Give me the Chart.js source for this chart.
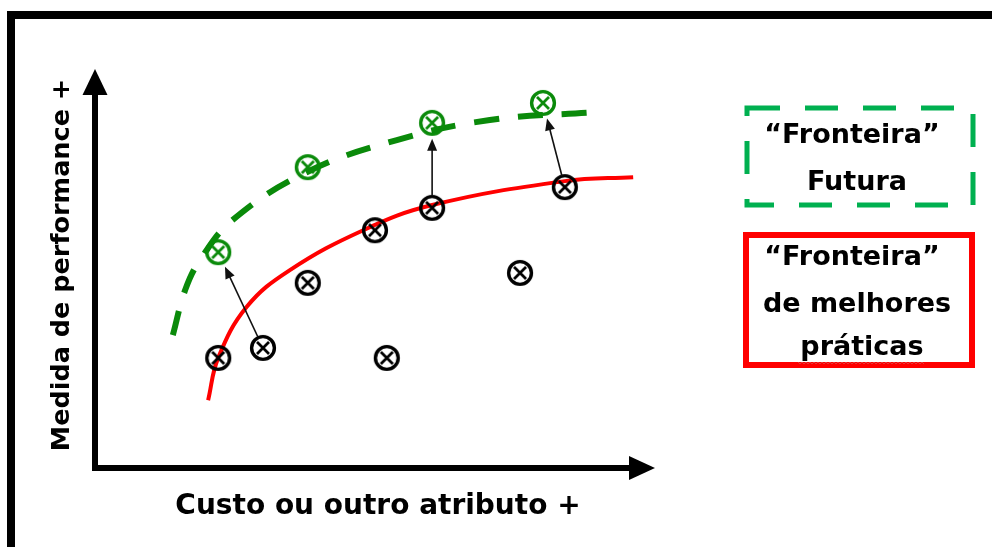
<!DOCTYPE html>
<html>
<head>
<meta charset="utf-8">
<script src="https://cdn.jsdelivr.net/npm/chart.js@4/dist/chart.umd.min.js"></script>
<style>
  html, body { margin: 0; padding: 0; background: #ffffff; }
  #wrap { width: 992px; height: 547px; position: relative; }
</style>
</head>
<body>
<div id="wrap"><canvas id="c" width="992" height="547"></canvas></div>
<script>
// Current units (cost / attribute vs. performance)
const observedX = [2.20, 3.00, 3.80, 5.21, 7.59, 5.00, 6.02, 8.39];
const observedY = [2.76, 3.01, 4.64, 2.76, 4.89, 5.96, 6.52, 7.04];

// Units after improvement
const futureX = [2.20, 3.80, 6.02, 8.00];
const futureY = [5.41, 7.54, 8.65, 9.15];

// Best-practice frontier
const frontierX = [2.02, 2.20, 2.71, 3.48, 4.79, 6.02, 8.39, 9.61];
const frontierY = [1.70, 2.76, 4.04, 4.96, 5.96, 6.59, 7.19, 7.29];

// Future frontier
const futureFrontierX = [1.39, 1.61, 1.875, 2.46, 3.79, 5.39, 7.05, 8.98];
const futureFrontierY = [3.33, 4.46, 5.21, 6.22, 7.42, 8.22, 8.72, 8.92];

// Movements: observed unit index -> future unit index
const moveFrom = [1, 6, 7];
const moveTo = [0, 2, 3];

const xAxisTitle = 'Custo ou outro atributo +';
const yAxisTitle = 'Medida de performance +';
const legendFuture = ['\u201CFronteira\u201D', 'Futura'];
const legendBest = ['\u201CFronteira\u201D', 'de melhores', 'pr\u00E1ticas'];

const pts = (xs, ys) => xs.map((x, i) => ({ x: x, y: ys[i] }));

// Circle-with-cross marker
function makeMarker(color) {
  const s = 32, c = document.createElement('canvas');
  c.width = s; c.height = s;
  const g = c.getContext('2d');
  g.strokeStyle = color;
  g.lineWidth = 3.4;
  g.beginPath(); g.arc(s / 2, s / 2, 11.4, 0, Math.PI * 2); g.stroke();
  g.lineWidth = 2.8;
  const a = 6;
  g.beginPath();
  g.moveTo(s / 2 - a, s / 2 - a); g.lineTo(s / 2 + a, s / 2 + a);
  g.moveTo(s / 2 + a, s / 2 - a); g.lineTo(s / 2 - a, s / 2 + a);
  g.stroke();
  return c;
}
const markerBlack = makeMarker('#000000');
const markerGreen = makeMarker('#0a8a0a');

const FONT = '"DejaVu Sans", sans-serif';

const decorations = {
  id: 'decorations',
  beforeDraw(chart) {
    const ctx = chart.ctx;
    ctx.save();
    ctx.fillStyle = '#ffffff';
    ctx.fillRect(0, 0, chart.width, chart.height);
    // frame
    ctx.fillStyle = '#000000';
    ctx.fillRect(7, 11, chart.width - 7, 8);
    ctx.fillRect(7, 11, 8, chart.height - 11);
    ctx.restore();
  },
  afterDraw(chart) {
    const ctx = chart.ctx, a = chart.chartArea;
    ctx.save();
    // axes with arrowheads
    ctx.fillStyle = '#000000';
    ctx.fillRect(a.left - 3, a.top + 24, 6, a.bottom - a.top - 21);
    ctx.fillRect(a.left - 3, a.bottom - 3, a.right - a.left - 22, 6);
    ctx.beginPath();
    ctx.moveTo(a.left, a.top);
    ctx.lineTo(a.left - 12.5, a.top + 26);
    ctx.lineTo(a.left + 12.5, a.top + 26);
    ctx.closePath(); ctx.fill();
    ctx.beginPath();
    ctx.moveTo(a.right, a.bottom);
    ctx.lineTo(a.right - 26, a.bottom - 12);
    ctx.lineTo(a.right - 26, a.bottom + 12);
    ctx.closePath(); ctx.fill();

    // axis titles
    ctx.fillStyle = '#000000';
    ctx.textAlign = 'center';
    ctx.textBaseline = 'middle';
    ctx.font = 'bold 28px ' + FONT;
    ctx.fillText(xAxisTitle, 378, 507);
    ctx.save();
    ctx.translate(62, 265);
    ctx.rotate(-Math.PI / 2);
    ctx.font = 'bold 25.5px ' + FONT;
    ctx.fillText(yAxisTitle, 0, 0);
    ctx.restore();

    // legend: future frontier
    ctx.strokeStyle = '#00B050';
    ctx.lineWidth = 5;
    ctx.setLineDash([33, 25]);
    ctx.strokeRect(747, 108, 226, 97);
    ctx.setLineDash([]);
    ctx.fillStyle = '#000000';
    ctx.font = 'bold 27px ' + FONT;
    ctx.fillText(legendFuture[0], 852, 136);
    ctx.fillText(legendFuture[1], 857, 183);

    // legend: best-practice frontier
    ctx.strokeStyle = '#FF0000';
    ctx.lineWidth = 6;
    ctx.strokeRect(746, 235, 226, 130);
    ctx.fillText(legendBest[0], 852, 258);
    ctx.fillText(legendBest[1], 857, 305);
    ctx.fillText(legendBest[2], 862, 348);
    // spelling squiggle under the last word
    ctx.strokeStyle = '#e03c3c';
    ctx.lineWidth = 1;
    ctx.beginPath();
    for (let x = 798, k = 0; x <= 925; x += 2, k++) {
      const y = 363 + (k % 2 ? 1 : -1);
      if (k === 0) ctx.moveTo(x, y); else ctx.lineTo(x, y);
    }
    ctx.stroke();
    ctx.restore();
  },
  afterDatasetsDraw(chart) {
    const ctx = chart.ctx;
    const obs = chart.getDatasetMeta(2).data;
    const fut = chart.getDatasetMeta(3).data;
    ctx.save();
    ctx.strokeStyle = '#111111';
    ctx.fillStyle = '#111111';
    ctx.lineWidth = 1.6;
    moveFrom.forEach((fi, k) => {
      const p = obs[fi], q = fut[moveTo[k]];
      const dx = q.x - p.x, dy = q.y - p.y, len = Math.hypot(dx, dy);
      const ux = dx / len, uy = dy / len;
      const sx = p.x + ux * 12, sy = p.y + uy * 12;
      const tx = q.x - ux * 16, ty = q.y - uy * 16;
      const hl = 12, hw = 5;
      ctx.beginPath();
      ctx.moveTo(sx, sy);
      ctx.lineTo(tx - ux * hl * 0.8, ty - uy * hl * 0.8);
      ctx.stroke();
      ctx.beginPath();
      ctx.moveTo(tx, ty);
      ctx.lineTo(tx - ux * hl - uy * hw, ty - uy * hl + ux * hw);
      ctx.lineTo(tx - ux * hl + uy * hw, ty - uy * hl - ux * hw);
      ctx.closePath();
      ctx.fill();
    });
    ctx.restore();
  }
};

new Chart(document.getElementById('c'), {
  type: 'scatter',
  data: {
    datasets: [
      {
        label: 'Fronteira de melhores práticas',
        data: pts(frontierX, frontierY),
        showLine: true,
        borderColor: '#FF0000',
        borderWidth: 4,
        pointRadius: 0,
        tension: 0.4,
        fill: false,
        order: 3
      },
      {
        label: 'Fronteira futura',
        data: pts(futureFrontierX, futureFrontierY),
        showLine: true,
        borderColor: '#0a8a0a',
        borderWidth: 6,
        borderDash: [25, 19],
        borderCapStyle: 'butt',
        pointRadius: 0,
        tension: 0.4,
        fill: false,
        order: 2
      },
      {
        label: 'Unidades',
        data: pts(observedX, observedY),
        pointStyle: markerBlack,
        pointRadius: 12,
        showLine: false,
        order: 0
      },
      {
        label: 'Unidades futuras',
        data: pts(futureX, futureY),
        pointStyle: markerGreen,
        pointRadius: 12,
        showLine: false,
        order: 0
      }
    ]
  },
  options: {
    responsive: false,
    animation: false,
    events: [],
    layout: { padding: { left: 95, right: 337, top: 69, bottom: 79 } },
    scales: {
      x: { type: 'linear', min: 0, max: 10, display: false },
      y: { type: 'linear', min: 0, max: 10, display: false }
    },
    plugins: { legend: { display: false }, tooltip: { enabled: false } },
    clip: false
  },
  plugins: [decorations]
});
</script>
</body>
</html>
